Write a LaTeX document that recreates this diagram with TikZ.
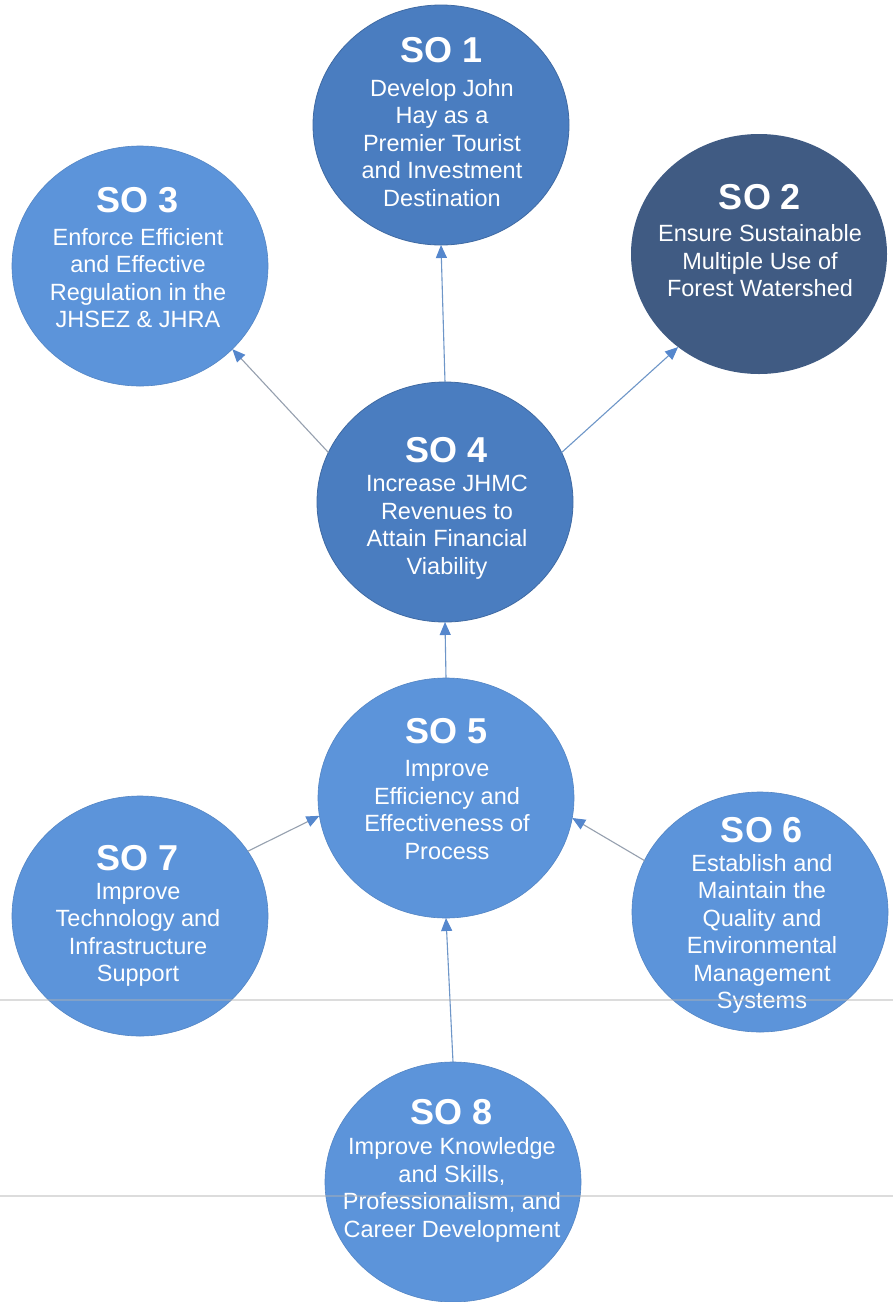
\documentclass[tikz,border=0pt]{standalone}
\usepackage{fontspec}
\setmainfont{Liberation Sans}
\usetikzlibrary{shapes.geometric,arrows.meta}
\definecolor{midblue}{RGB}{74,125,192}
\definecolor{lightblue}{RGB}{92,148,218}
\definecolor{darkblue}{RGB}{64,91,131}
\definecolor{linegray}{RGB}{150,160,175}
\definecolor{lineblue}{RGB}{110,150,200}
\definecolor{headblue}{RGB}{85,135,205}
\tikzset{
  obj/.style={ellipse, inner sep=0pt, outer sep=0pt, minimum width=256pt, minimum height=240pt},
  objmid/.style={obj, fill=midblue, draw=midblue!85!black, line width=0.8pt},
  objlight/.style={obj, fill=lightblue, draw=lightblue!90!black, line width=0.6pt},
  objdark/.style={obj, fill=darkblue},
  sotitle/.style={font=\fontsize{36}{38}\selectfont\bfseries, text=white, inner sep=0pt},
  sobody/.style={font=\fontsize{23.5}{27.5}\selectfont, text=white, align=center, inner sep=0pt},
  link/.style={line width=1.1pt, draw=lineblue, -{Triangle[length=13pt,width=11pt,color=headblue]}},
  graylink/.style={link, draw=linegray},
  scanline/.style={draw=gray!60, line width=1.6pt, opacity=0.45}
}
\begin{document}
\begin{tikzpicture}[x=1pt,y=-1pt]
\useasboundingbox (0,0) rectangle (893,1302);
\fill[white] (0,0) rectangle (893,1302);

% ellipses
\node[objmid]   (so1) at (441,125) {};
\node[objdark]  (so2) at (759,254) {};
\node[objlight] (so3) at (140,266) {};
\node[objmid]   (so4) at (445,502) {};
\node[objlight] (so5) at (446,798) {};
\node[objlight] (so6) at (760,912) {};
\node[objlight] (so7) at (140,916) {};
\node[objlight] (so8) at (453,1182) {};

% texts
\node[sotitle] (t1) at (442,50) {SO 1};
\node[sobody]  (b1) at (442,143) {Develop John\\Hay as a\\Premier Tourist\\and Investment\\Destination};

\node[sotitle] (t2) at (760,197) {SO 2};
\node[sobody]  (b2) at (760,261) {Ensure Sustainable\\Multiple Use of\\Forest Watershed};

\node[sotitle] (t3) at (138,200) {SO 3};
\node[sobody]  (b3) at (138,278) {Enforce Efficient\\and Effective\\Regulation in the\\JHSEZ \& JHRA};

\node[sotitle] (t4) at (447,450) {SO 4};
\node[sobody]  (b4) at (447,527) {Increase JHMC\\Revenues to\\Attain Financial\\Viability};

\node[sotitle] (t5) at (447,731) {SO 5};
\node[sobody]  (b5) at (447,810) {Improve\\Efficiency and\\Effectiveness of\\Process};

\node[sotitle] (t6) at (762,830) {SO 6};
\node[sobody]  (b6) at (762,934) {Establish and\\Maintain the\\Quality and\\Environmental\\Management\\Systems};

\node[sotitle] (t7) at (138,858) {SO 7};
\node[sobody]  (b7) at (138,935) {Improve\\Technology and\\Infrastructure\\Support};

\node[sotitle] (t8) at (452,1112) {SO 8};
\node[sobody]  (b8) at (452,1190) {Improve Knowledge\\and Skills,\\Professionalism, and\\Career Development};

% connectors
\draw[link] (so4.north) -- (so1.south);
\draw[graylink] (so4.157.8) -- (so3.-42.8);
\draw[link] (so4.23.8) -- (so2.-131.6);
\draw[link] (so5.north) -- (so4.south);
\draw[graylink] (so7.31.7) -- (so5.188.8);
\draw[graylink] (so6.156.3) -- (so5.-9.8);
\draw[link] (so8.north) -- (so5.south);

% scan lines
\coordinate (l1a) at (0,1000);
\coordinate (l1b) at (893,1000);
\coordinate (l2a) at (0,1196);
\coordinate (l2b) at (893,1196);
\draw[scanline] (l1a) -- (l1b);
\draw[scanline] (l2a) -- (l2b);
\end{tikzpicture}
\end{document}
